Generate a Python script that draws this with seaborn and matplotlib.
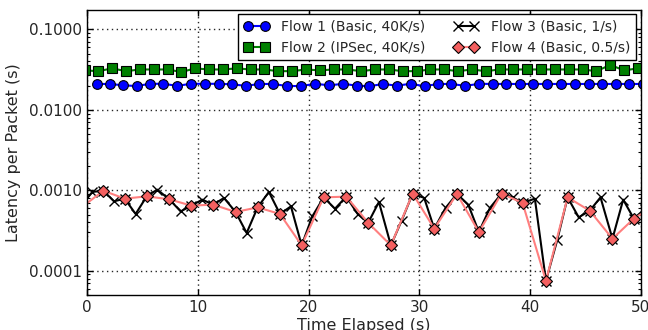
import matplotlib
matplotlib.use("Agg")
import matplotlib.pyplot as plt
import seaborn as sns
from matplotlib.ticker import FixedLocator, FuncFormatter, LogLocator, NullFormatter

# ---------------- data ----------------
flow1_t = [0.85, 2.05, 3.25, 4.46, 5.66, 6.87, 8.13, 9.34, 10.6, 11.87, 13.07, 14.33, 15.54,
           16.75, 18.07, 19.33, 20.6, 21.86, 23.13, 24.34, 25.47, 26.74, 27.95, 29.21, 30.48,
           31.68, 32.88, 34.15, 35.41, 36.62, 37.82, 39.08, 40.29, 41.5, 42.76, 44.03, 45.29,
           46.5, 47.76, 48.96, 50.17]
flow1_v = [0.0210, 0.0210, 0.0202, 0.0198, 0.0211, 0.0211, 0.0199, 0.0211, 0.0211, 0.0211,
           0.0208, 0.0199, 0.0210, 0.0210, 0.0198, 0.0198, 0.0211, 0.0202, 0.0211, 0.0200,
           0.0197, 0.0210, 0.0200, 0.0211, 0.0197, 0.0210, 0.0210, 0.0199, 0.0211, 0.0210,
           0.0210, 0.0210, 0.0210, 0.0210, 0.0210, 0.0210, 0.0210, 0.0210, 0.0210, 0.0210,
           0.0210]

flow2_t = [-0.25, 1.0, 2.25, 3.5, 4.75, 6.0, 7.25, 8.5, 9.75, 11.0, 12.25, 13.5, 14.75, 16.0,
           17.25, 18.5, 19.75, 21.0, 22.25, 23.5, 24.75, 26.0, 27.25, 28.5, 29.75, 31.0, 32.25,
           33.5, 34.75, 36.0, 37.25, 38.5, 39.75, 41.0, 42.25, 43.5, 44.75, 46.0, 47.25, 48.5,
           49.75]
flow2_v = [0.0310, 0.0303, 0.0328, 0.0303, 0.0318, 0.0318, 0.0318, 0.0296, 0.0328, 0.0318,
           0.0318, 0.0328, 0.0318, 0.0318, 0.0303, 0.0303, 0.0318, 0.0310, 0.0318, 0.0318,
           0.0303, 0.0318, 0.0318, 0.0303, 0.0303, 0.0318, 0.0318, 0.0303, 0.0318, 0.0303,
           0.0318, 0.0318, 0.0318, 0.0318, 0.0318, 0.0318, 0.0318, 0.0303, 0.0362, 0.0310,
           0.0328]

flow3_t = [-0.55, 0.45, 1.45, 2.41, 3.38, 4.37, 5.37, 6.32, 7.41, 8.44, 9.4, 10.39, 11.38,
           12.35, 13.4, 14.4, 15.39, 16.41, 17.41, 18.4, 19.37, 20.33, 21.36, 22.38, 23.4,
           24.43, 25.38, 26.35, 27.43, 28.4, 29.4, 30.44, 31.35, 32.37, 33.4, 34.42, 35.38,
           36.38, 37.43, 38.43, 39.33, 40.44, 41.44, 42.45, 43.4, 44.4, 45.4, 46.37, 47.45,
           48.42, 49.38, 50.4]
flow3_v = [0.00064, 0.000955, 0.00099, 0.00073, 0.000788, 0.000508, 0.000842, 0.00102,
           0.000773, 0.000547, 0.000645, 0.000766, 0.000664, 0.000804, 0.000538, 0.000295,
           0.000614, 0.000955, 0.000508, 0.000632, 0.000207, 0.000474, 0.000818, 0.000591,
           0.000835, 0.000508, 0.000395, 0.000717, 0.000207, 0.00042, 0.00091, 0.000804,
           0.000334, 0.000604, 0.000902, 0.000664, 0.000303, 0.000604, 0.00091, 0.000818,
           0.000697, 0.000788, 0.000075, 0.000238, 0.000818, 0.000462, 0.000558, 0.000818,
           0.00025, 0.000766, 0.000445, 0.00059]

flow4_t = [-0.55, 1.45, 3.38, 5.37, 7.41, 9.4, 11.38, 13.4, 15.39, 17.41, 19.37, 21.36, 23.4,
           25.38, 27.43, 29.4, 31.35, 33.4, 35.38, 37.43, 39.33, 41.44, 43.4, 45.4, 47.45,
           49.38, 51.4]
flow4_v = [0.00061, 0.00099, 0.000788, 0.000842, 0.000773, 0.000645, 0.000664, 0.000538,
           0.000614, 0.000508, 0.000207, 0.000818, 0.000835, 0.000395, 0.000207, 0.00091,
           0.000334, 0.000902, 0.000303, 0.00091, 0.000697, 0.000075, 0.000818, 0.000558,
           0.00025, 0.000445, 0.00066]

labels = ["Flow 1 (Basic, 40K/s)", "Flow 2 (IPSec, 40K/s)",
          "Flow 3 (Basic, 1/s)", "Flow 4 (Basic, 0.5/s)"]
x_ticks = [0, 10, 20, 30, 40, 50]
y_ticks = [0.0001, 0.001, 0.01, 0.1]

# ---------------- style ----------------
sns.set_style("ticks")
plt.rcParams['font.family'] = ['DejaVu Sans']

fig = plt.figure(figsize=(6.48, 3.30), dpi=100)
ax = fig.add_axes([0.1347, 0.1061, 0.8540, 0.8651])

common = dict(ax=ax, estimator=None, sort=False, linewidth=1.5)
sns.lineplot(x=flow1_t, y=flow1_v, color="blue", marker="o", markersize=7,
             markeredgecolor="black", markeredgewidth=0.8, label=labels[0], **common)
sns.lineplot(x=flow2_t, y=flow2_v, color="green", marker="s", markersize=6.5,
             markeredgecolor="black", markeredgewidth=0.8, label=labels[1], **common)
sns.lineplot(x=flow3_t, y=flow3_v, color="black", marker="x", markersize=6.5,
             markeredgecolor="black", markeredgewidth=1.0, label=labels[2], **common)
sns.lineplot(x=flow4_t, y=flow4_v, color="#ff7f7f", marker="D", markersize=6.5,
             markerfacecolor="#f46060", markeredgecolor="black", markeredgewidth=0.8,
             label=labels[3], **common)

ax.set_yscale("log")
ax.set_xlim(0, 50)
ax.set_ylim(5e-5, 0.177)
ax.xaxis.set_major_locator(FixedLocator(x_ticks))
ax.yaxis.set_major_locator(FixedLocator(y_ticks))
ax.yaxis.set_major_formatter(FuncFormatter(lambda v, p: f"{v:.4f}"))
ax.yaxis.set_minor_locator(LogLocator(base=10, subs=range(2, 10)))
ax.yaxis.set_minor_formatter(NullFormatter())

ax.grid(True, which="major", color="0.15", linestyle=(0, (1, 2.5)), linewidth=1.0)
ax.tick_params(which="both", direction="in", top=True, right=True, labelsize=11,
               color="black")
ax.tick_params(which="major", length=4, width=1)
ax.tick_params(which="minor", length=2, width=0.8)
for s in ax.spines.values():
    s.set_color("black")
    s.set_linewidth(1.0)

ax.set_xlabel("Time Elapsed (s)", fontsize=11.5, labelpad=2)
ax.set_ylabel("Latency per Packet (s)", fontsize=11.5, labelpad=6)

leg = ax.legend(ncol=2, loc="upper right", fontsize=10, numpoints=2, frameon=True,
                fancybox=False, framealpha=1, edgecolor="black", borderaxespad=0.35,
                handlelength=1.8, handletextpad=0.9, columnspacing=2.0,
                labelspacing=0.5, borderpad=0.4)
leg.get_frame().set_linewidth(1.0)

fig.savefig("out.png", dpi=100)
